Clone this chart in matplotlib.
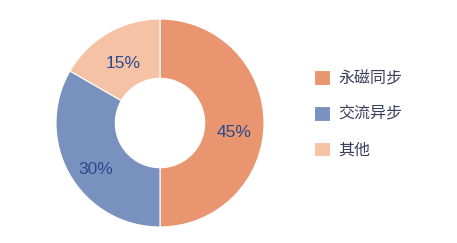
import matplotlib
matplotlib.use("Agg")
import matplotlib.pyplot as plt
import numpy as np

plt.rcParams['font.family'] = ['Liberation Sans', 'Noto Sans CJK SC', 'DejaVu Sans']

labels = ["永磁同步", "交流异步", "其他"]
values = [45, 30, 15]
pct_text = ["45%", "30%", "15%"]
colors = ["#E9956F", "#7891BF", "#F5C2A6"]

fig = plt.figure(figsize=(4.57, 2.43), dpi=100, facecolor="white")
W, H = 457, 243
cx, cy, r = 160, 123, 104
ax = fig.add_axes([(cx - r) / W, (H - cy - r) / H, 2 * r / W, 2 * r / H])

wedges, _ = ax.pie(values, colors=colors, startangle=90, counterclock=False,
                   radius=1, wedgeprops=dict(width=0.57, edgecolor="white", linewidth=0.8))
ax.set_xlim(-1, 1)
ax.set_ylim(-1, 1)
ax.set_aspect("equal")
ax.axis("off")

# percentage labels in the ring (sitting a bit below the mid angle, like the original)
total = sum(values)
start = 90.0
for w, t, dy in zip(values, pct_text, [-0.09, -0.09, -0.04]):
    ang = start - w / total * 360 / 2
    start -= w / total * 360
    rad = np.deg2rad(ang)
    ax.text(0.71 * np.cos(rad), 0.71 * np.sin(rad) + dy, t, ha="center", va="center",
            fontsize=12.5, color="#2B4A8E")

fig.legend(wedges, labels, loc="upper left", bbox_to_anchor=(300 / W, 1 - 56 / H),
           frameon=False, fontsize=11.5, labelcolor="#3A3F5C", handlelength=1.0,
           handleheight=1.0, handletextpad=0.5, labelspacing=1.27)

fig.savefig("out.png", dpi=100, facecolor="white")
